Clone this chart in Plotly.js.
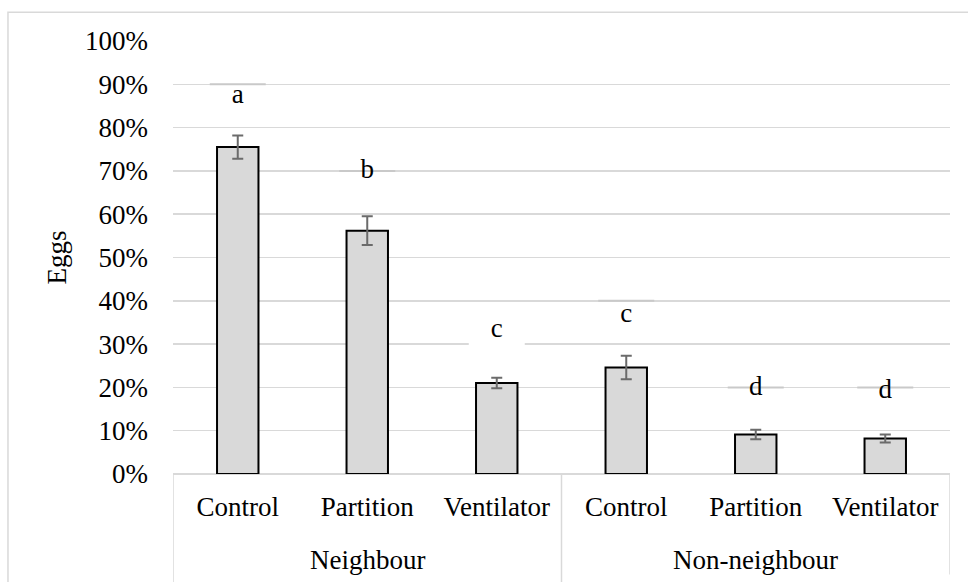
<!DOCTYPE html>
<html>
<head>
<meta charset="utf-8">
<script src="https://cdn.plot.ly/plotly-3.0.1.min.js"></script>
<style>html,body{margin:0;padding:0;background:#fff;}#chart{width:968px;height:582px;}</style>
</head>
<body>
<div id="chart"></div>
<script>
// Data (percent of eggs)
const groups = ["Neighbour", "Non-neighbour"];
const groupSize = [3, 3];
const treatments = ["Control", "Partition", "Ventilator", "Control", "Partition", "Ventilator"];
const eggs = [75.5, 56.2, 21.0, 24.6, 9.1, 8.2];
const eggsErr = [2.7, 3.3, 1.2, 2.7, 1.1, 0.95];
const letters = ["a", "b", "c", "c", "d", "d"];
const letterY = [87.2, 70.0, 33.3, 36.6, 19.9, 19.1];
const letterMarkY = [90, 70, 30, 40, 20, 20];
const letterMarkColors = ["#c9c9c9", "#c9c9c9", "#ffffff", "#c9c9c9", "#c9c9c9", "#c9c9c9"];
const yTicks = [0, 10, 20, 30, 40, 50, 60, 70, 80, 90, 100];

const FONT = "Liberation Serif, Times New Roman, serif";
const idx = treatments.map((_, i) => i);

const traces = [
  {
    type: "scatter", mode: "markers", x: idx, y: letterMarkY,
    marker: {symbol: "line-ew", size: 40, line: {color: letterMarkColors, width: 2}},
    hoverinfo: "skip", showlegend: false, cliponaxis: false
  },
  {
    type: "bar", x: idx, y: eggs,
    marker: {color: "#d9d9d9", line: {color: "#000000", width: 2}},
    error_y: {type: "data", array: eggsErr, visible: true, color: "#6b6b6b", thickness: 2, width: 5.5},
    showlegend: false
  },
  {
    type: "scatter", mode: "text", x: idx, y: letterY, text: letters,
    textposition: "middle center",
    textfont: {family: FONT, size: 27, color: "#000"},
    hoverinfo: "skip", showlegend: false
  }
];

// group labels and dividers built from the group arrays
const annotations = [];
const shapes = [
  {type: "rect", xref: "paper", yref: "paper", x0: -0.2124, x1: 1.2, y0: -0.4, y1: 1.0662,
   line: {color: "#d9d9d9", width: 1.5}, fillcolor: "rgba(0,0,0,0)", layer: "below"}
];
let start = -0.5;
shapes.push({type: "line", xref: "x", yref: "paper", x0: start, x1: start, y0: 0, y1: -0.26,
             line: {color: "#d9d9d9", width: 1.5}});
groups.forEach((g, gi) => {
  const end = start + groupSize[gi];
  annotations.push({xref: "x", yref: "paper", x: (start + end) / 2, y: -0.198, yanchor: "middle",
                    text: g, showarrow: false, font: {family: FONT, size: 27, color: "#000"}});
  shapes.push({type: "line", xref: "x", yref: "paper", x0: end, x1: end, y0: 0,
               y1: gi === groups.length - 1 ? -0.232 : -0.26,
               line: {color: "#d9d9d9", width: 1.5}});
  start = end;
});

const layout = {
  width: 968, height: 582,
  margin: {l: 173, r: 18, t: 41, b: 107.6},
  paper_bgcolor: "#fff", plot_bgcolor: "#fff",
  bargap: 0.68,
  font: {family: FONT, size: 27, color: "#000"},
  xaxis: {
    range: [-0.5, 5.5], tickvals: idx, ticktext: treatments,
    showgrid: false, zeroline: false, showline: false, ticks: "",
    ticklabelstandoff: 14,
    tickfont: {family: FONT, size: 27, color: "#000"},
    automargin: false, fixedrange: true
  },
  yaxis: {
    range: [0, 100], tickvals: yTicks, ticktext: yTicks.map(v => v + "%"),
    showgrid: true, gridcolor: "#d9d9d9", gridwidth: 1.5,
    zeroline: true, zerolinecolor: "#d9d9d9", zerolinewidth: 1.5,
    showline: false, ticks: "", ticklabelstandoff: 24,
    tickfont: {family: FONT, size: 27, color: "#000"},
    title: {text: "Eggs", font: {family: FONT, size: 27, color: "#000"}, standoff: 10},
    automargin: false
  },
  annotations: annotations,
  shapes: shapes
};

Plotly.newPlot("chart", traces, layout, {displayModeBar: false, staticPlot: true});
</script>
</body>
</html>
